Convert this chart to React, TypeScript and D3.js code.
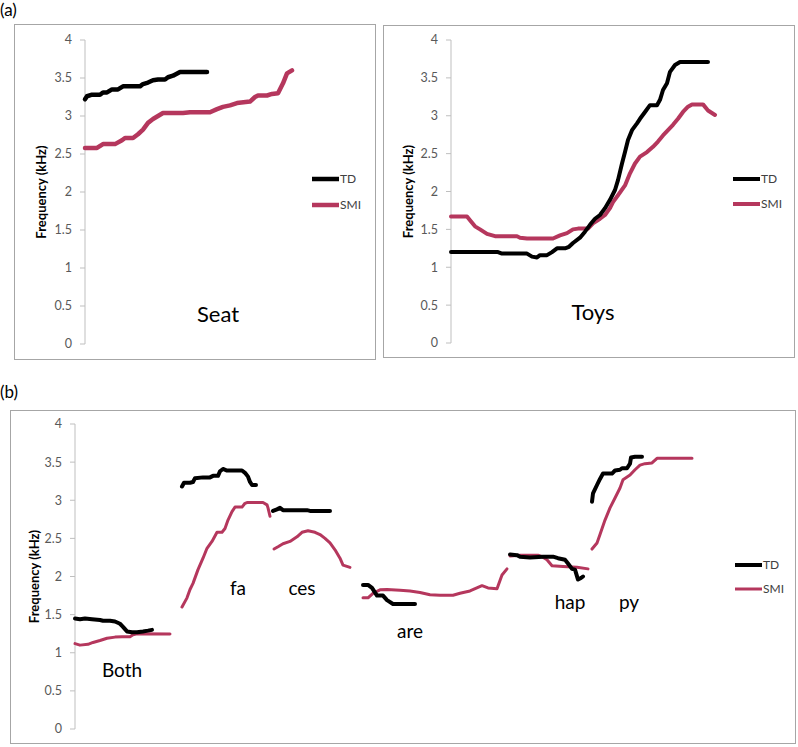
import React from "react";
import * as d3 from "d3";

type P = [number, number];

// Panel (a) Seat — [time sample, kHz]
const seatTD: P[] = [[0,3.22],[2,3.26],[7,3.28],[15,3.28],[18,3.31],[22,3.31],[27,3.35],[33,3.35],[38,3.39],[45,3.39],[55,3.39],[58,3.42],[63,3.44],[68,3.47],[73,3.48],[80,3.48],[83,3.51],[88,3.53],[95,3.58],[102,3.58],[122,3.58]];
const seatSMI: P[] = [[0,2.58],[12,2.58],[18,2.63],[30,2.63],[37,2.68],[40,2.71],[48,2.71],[53,2.76],[58,2.82],[63,2.91],[68,2.96],[73,3.0],[78,3.04],[98,3.04],[105,3.05],[125,3.05],[132,3.09],[138,3.12],[145,3.14],[152,3.17],[165,3.19],[170,3.25],[173,3.27],[182,3.27],[187,3.29],[193,3.30],[198,3.43],[202,3.56],[207,3.60]];

// Panel (a) Toys
const toysTD: P[] = [[0,1.2],[47,1.2],[51,1.18],[76,1.18],[81,1.14],[86,1.13],[89,1.16],[96,1.16],[101,1.2],[106,1.25],[114,1.25],[118,1.27],[122,1.32],[129,1.39],[134,1.47],[139,1.56],[144,1.64],[149,1.69],[154,1.78],[159,1.89],[164,2.02],[167,2.15],[171,2.37],[174,2.52],[177,2.68],[181,2.81],[186,2.9],[189,2.96],[194,3.05],[199,3.14],[206,3.14],[209,3.21],[212,3.34],[216,3.43],[219,3.58],[224,3.67],[229,3.71],[257,3.71]];
const toysSMI: P[] = [[0,1.67],[16,1.67],[19,1.62],[24,1.54],[29,1.5],[36,1.44],[44,1.41],[66,1.41],[69,1.39],[76,1.38],[102,1.38],[109,1.42],[116,1.45],[122,1.5],[127,1.51],[137,1.51],[142,1.58],[149,1.64],[154,1.69],[159,1.78],[162,1.86],[167,1.95],[174,2.08],[179,2.24],[184,2.37],[189,2.46],[196,2.52],[202,2.59],[207,2.66],[212,2.74],[217,2.81],[222,2.88],[227,2.96],[232,3.05],[237,3.12],[241,3.15],[252,3.15],[257,3.07],[264,3.01]];

// Panel (b) sentence segments
const bTD: P[][] = [
  [[0,1.45],[5,1.44],[10,1.45],[17,1.44],[25,1.43],[28,1.42],[35,1.42],[40,1.41],[45,1.38],[48,1.34],[52,1.28],[57,1.27],[62,1.27],[68,1.28],[73,1.29],[77,1.3]],
  [[107,3.18],[109,3.23],[115,3.23],[118,3.24],[120,3.29],[128,3.3],[135,3.3],[138,3.32],[143,3.32],[145,3.38],[148,3.41],[152,3.39],[167,3.39],[170,3.36],[173,3.31],[175,3.24],[177,3.2],[181,3.2]],
  [[198,2.86],[202,2.88],[205,2.9],[208,2.87],[232,2.87],[235,2.86],[255,2.86]],
  [[288,1.89],[293,1.89],[297,1.85],[302,1.75],[308,1.75],[312,1.69],[318,1.64],[340,1.64]],
  [[435,2.29],[442,2.28],[445,2.26],[455,2.25],[468,2.26],[478,2.26],[483,2.24],[490,2.22],[493,2.17],[497,2.1],[500,2.09],[503,1.96],[506,1.98],[508,2.0]],
  [[517,2.98],[518,3.09],[522,3.2],[525,3.28],[528,3.35],[537,3.35],[540,3.39],[545,3.4],[547,3.42],[552,3.42],[555,3.48],[556,3.56],[560,3.57],[567,3.57]],
];
const bSMI: P[][] = [
  [[0,1.12],[5,1.1],[13,1.11],[18,1.135],[25,1.16],[32,1.19],[40,1.205],[47,1.21],[55,1.21],[58,1.235],[62,1.25],[95,1.245]],
  [[107,1.6],[112,1.72],[115,1.83],[118,1.91],[123,2.09],[128,2.24],[132,2.37],[137,2.46],[142,2.58],[147,2.58],[150,2.63],[153,2.74],[157,2.85],[160,2.91],[167,2.91],[170,2.96],[172,2.97],[188,2.97],[192,2.94],[193,2.9],[195,2.79]],
  [[199,2.36],[203,2.39],[208,2.43],[215,2.46],[222,2.52],[227,2.58],[233,2.6],[240,2.58],[245,2.55],[250,2.5],[255,2.44],[260,2.35],[265,2.24],[268,2.15],[275,2.12]],
  [[288,1.72],[293,1.72],[298,1.78],[305,1.825],[312,1.83],[325,1.82],[335,1.81],[345,1.79],[355,1.76],[365,1.755],[378,1.755],[385,1.78],[395,1.81],[407,1.88],[413,1.85],[422,1.84],[427,2.02],[432,2.1]],
  [[435,2.27],[445,2.28],[463,2.28],[467,2.26],[472,2.22],[477,2.14],[488,2.13],[502,2.12],[513,2.1]],
  [[517,2.36],[522,2.44],[525,2.55],[530,2.74],[535,2.9],[540,3.03],[545,3.16],[548,3.27],[555,3.33],[560,3.4],[565,3.46],[570,3.48],[577,3.49],[582,3.55],[588,3.55],[617,3.55]],
];

const yTicks = [0, 0.5, 1, 1.5, 2, 2.5, 3, 3.5, 4];
const seriesNames = ["TD", "SMI"];
const COLORS = ["#000000", "#b5375d"];
const FONT = "Lato, 'Open Sans', sans-serif";

type PanelProps = {
  axisX: number; yTop: number; yBottom: number; xMax: number; xWidth: number;
  td: P[][]; smi: P[][]; tdW: number; smiW: number;
  titleX: number; legendX: number; legendY: number; legendGap: number;
};

function Panel(p: PanelProps) {
  const y = d3.scaleLinear().domain([0, 4]).range([p.yBottom, p.yTop]);
  const x = d3.scaleLinear().domain([0, p.xMax]).range([p.axisX, p.axisX + p.xWidth]);
  const line = d3.line<P>().x(d => x(d[0])).y(d => y(d[1]));
  return (
    <g>
      <line x1={p.axisX} x2={p.axisX} y1={y(4)} y2={y(0)} stroke="#bfbfbf" strokeWidth={1} />
      {yTicks.map(t => (
        <g key={t}>
          <line x1={p.axisX - 5} x2={p.axisX} y1={y(t)} y2={y(t)} stroke="#bfbfbf" />
          <text x={p.axisX - 13} y={y(t)} dy="0.35em" textAnchor="end" fontSize={12.5} fill="#595959" fontFamily={FONT}>{t}</text>
        </g>
      ))}
      <text transform={`translate(${p.titleX},${(y(0) + y(4)) / 2}) rotate(-90)`} textAnchor="middle" dy="0.35em"
        fontSize={13} fontWeight="bold" fill="#000" fontFamily={FONT}>Frequency (kHz)</text>
      {p.smi.map((s, i) => (
        <path key={"s" + i} d={line(s) || ""} fill="none" stroke={COLORS[1]} strokeWidth={p.smiW} strokeLinejoin="round" strokeLinecap="round" />
      ))}
      {p.td.map((s, i) => (
        <path key={"t" + i} d={line(s) || ""} fill="none" stroke={COLORS[0]} strokeWidth={p.tdW} strokeLinejoin="round" strokeLinecap="round" />
      ))}
      {seriesNames.map((n, i) => (
        <g key={n}>
          <line x1={p.legendX} x2={p.legendX + 27} y1={p.legendY + i * p.legendGap} y2={p.legendY + i * p.legendGap}
            stroke={COLORS[i]} strokeWidth={i === 0 ? p.tdW : p.smiW} />
          <text x={p.legendX + 28} y={p.legendY + i * p.legendGap} dy="0.35em" fontSize={12} fill="#404040" fontFamily={FONT}>{n}</text>
        </g>
      ))}
    </g>
  );
}

export default function App() {
  return (
    <svg width={798} height={747} style={{ position: "absolute", left: 0, top: 0, background: "#fff" }}>
      <rect x={0} y={0} width={798} height={747} fill="#fff" />
      <text x={0} y={16} fontSize={17} fontFamily={FONT} fill="#000">(a)</text>
      <text x={0} y={398} fontSize={17} fontFamily={FONT} fill="#000">(b)</text>

      <rect x={14.5} y={24.5} width={361} height={335} fill="#fff" stroke="#a6a6a6" />
      <rect x={383.5} y={25.5} width={411} height={332} fill="#fff" stroke="#a6a6a6" />
      <rect x={10.5} y={410.5} width={785} height={333} fill="#fff" stroke="#a6a6a6" />

      <Panel axisX={85} yTop={40} yBottom={344} xMax={220} xWidth={220} td={[seatTD]} smi={[seatSMI]} tdW={4.5} smiW={4.5}
        titleX={41} legendX={312} legendY={179} legendGap={26} />
      <text x={218} y={322} textAnchor="middle" fontSize={22} fontFamily={FONT} fill="#000">Seat</text>

      <Panel axisX={451} yTop={40} yBottom={343} xMax={220} xWidth={220} td={[toysTD]} smi={[toysSMI]} tdW={4} smiW={4}
        titleX={408} legendX={733} legendY={179} legendGap={25} />
      <text x={593} y={320} textAnchor="middle" fontSize={22} fontFamily={FONT} fill="#000">Toys</text>

      <Panel axisX={75} yTop={424} yBottom={729} xMax={620} xWidth={620} td={bTD} smi={bSMI} tdW={4} smiW={3}
        titleX={34} legendX={735} legendY={565} legendGap={24} />
      <text x={122} y={677} textAnchor="middle" fontSize={19} fontFamily={FONT} fill="#000">Both</text>
      <text x={238} y={595} textAnchor="middle" fontSize={19} fontFamily={FONT} fill="#000">fa</text>
      <text x={302} y={595} textAnchor="middle" fontSize={19} fontFamily={FONT} fill="#000">ces</text>
      <text x={410} y={638} textAnchor="middle" fontSize={19} fontFamily={FONT} fill="#000">are</text>
      <text x={570} y={609} textAnchor="middle" fontSize={19} fontFamily={FONT} fill="#000">hap</text>
      <text x={629} y={609} textAnchor="middle" fontSize={19} fontFamily={FONT} fill="#000">py</text>
    </svg>
  );
}
